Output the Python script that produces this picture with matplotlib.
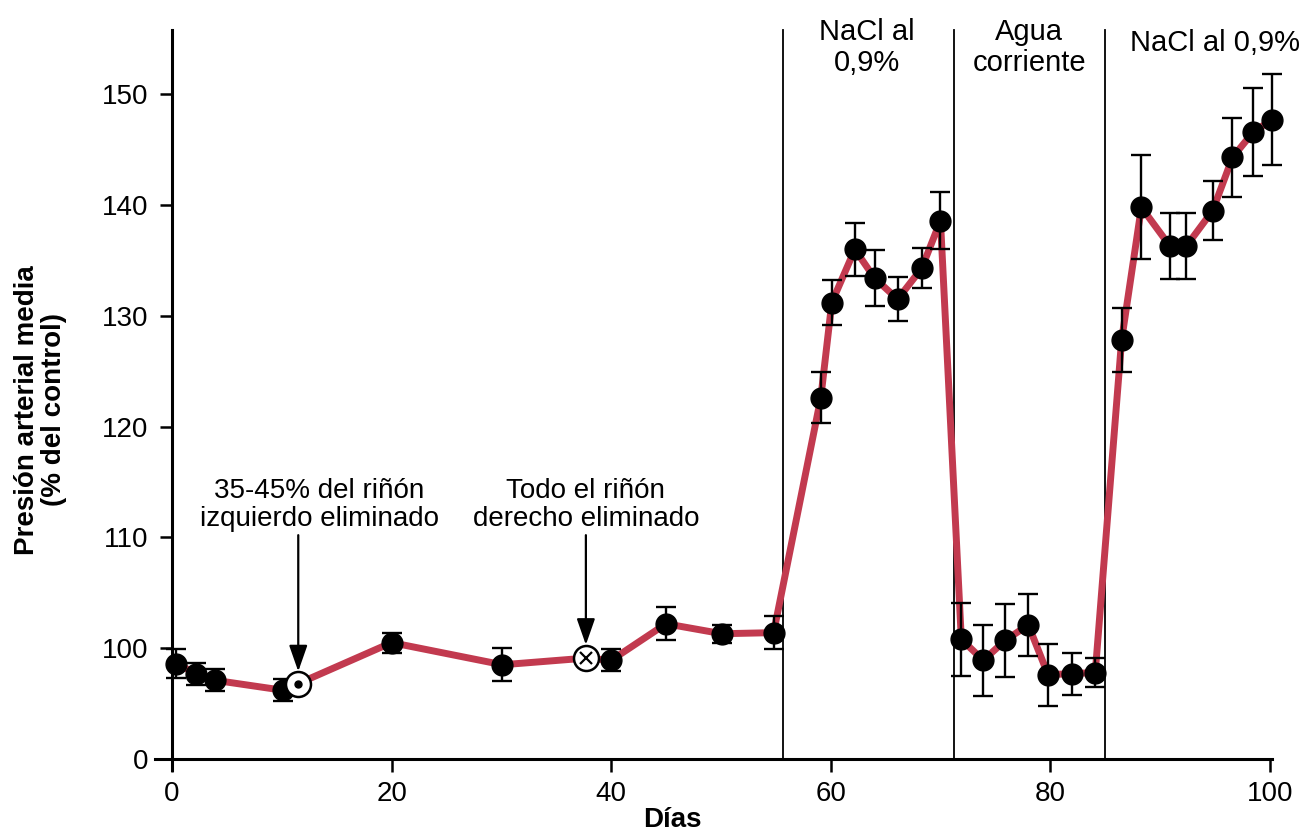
import matplotlib
matplotlib.use("Agg")
import matplotlib.pyplot as plt

plt.rcParams['font.family'] = ['Liberation Sans', 'DejaVu Sans']

# Data (días, presión % del control, error)
dias = [0.4, 2.2, 3.9, 10.1, 11.5, 20.0, 30.1, 37.7, 40.0, 45.0, 50.1, 54.8,
        59.1, 60.1, 62.2, 64.0, 66.1, 68.3, 70.0,
        71.9, 73.9, 75.9, 78.0, 79.8, 82.0, 84.1,
        86.5, 88.3, 90.9, 92.4, 94.8, 96.6, 98.5, 100.2]
presion = [98.6, 97.7, 97.1, 96.2, 96.8, 100.5, 98.5, 99.1, 98.9, 102.2, 101.3, 101.4,
           122.6, 131.2, 136.0, 133.4, 131.5, 134.3, 138.6,
           100.8, 98.9, 100.7, 102.1, 97.6, 97.7, 97.8,
           127.8, 139.8, 136.3, 136.3, 139.5, 144.3, 146.6, 147.7]
error = [1.3, 1.0, 1.0, 1.0, 0.0, 0.9, 1.5, 0.0, 1.0, 1.5, 0.8, 1.5,
         2.3, 2.0, 2.4, 2.5, 2.0, 1.8, 2.6,
         3.3, 3.2, 3.3, 2.8, 2.8, 1.9, 1.3,
         2.9, 4.7, 3.0, 3.0, 2.7, 3.6, 4.0, 4.1]
# special markers: index 4 (circle with dot), index 7 (circle with x)
idx_dot = 4
idx_x = 7

cambios = [55.7, 71.2, 85.0]
yticks_pos = [90, 100, 110, 120, 130, 140, 150]
yticks_lab = ['0', '100', '110', '120', '130', '140', '150']
xticks = [0, 20, 40, 60, 80, 100]

red = '#c23a4f'

fig = plt.figure(figsize=(13.05, 8.33), dpi=100)
ax = fig.add_axes([155/1305, 1 - 770/833, (1272-155)/1305, (770-30)/833])
ax.set_xlim(-1.55, 100.2)
ax.set_ylim(89.0, 155.8)

ax.plot(dias, presion, color=red, lw=5, zorder=2, solid_joinstyle='round', clip_on=False)

normal = [i for i in range(len(dias)) if i not in (idx_dot, idx_x)]
eb = ax.errorbar([dias[i] for i in normal], [presion[i] for i in normal],
                 yerr=[error[i] for i in normal], fmt='o', color='black',
                 markersize=15, capsize=7, elinewidth=1.7, capthick=1.7, zorder=4)
eb.lines[0].set_clip_on(False)
for coll in eb.lines[1]:
    coll.set_clip_on(False)
for coll in eb.lines[2]:
    coll.set_clip_on(False)

# special markers
ax.plot(dias[idx_dot], presion[idx_dot], 'o', ms=18, mfc='white', mec='black', mew=1.8, zorder=5)
ax.plot(dias[idx_dot], presion[idx_dot], 'o', ms=5, color='black', zorder=6)
ax.plot(dias[idx_x], presion[idx_x], 'o', ms=18, mfc='white', mec='black', mew=1.8, zorder=5)
ax.plot(dias[idx_x], presion[idx_x], 'x', ms=8, mew=1.6, color='black', zorder=6)

for c in cambios:
    ax.plot([c, c], [90, 155.8], color='black', lw=1.3, zorder=1, clip_on=False)

for s in ['top', 'right']:
    ax.spines[s].set_visible(False)
ax.spines['bottom'].set_position(('data', 90))
ax.spines['left'].set_position(('data', 0))
ax.spines['bottom'].set_linewidth(2.2)
ax.spines['left'].set_linewidth(2.2)

ax.set_yticks(yticks_pos)
ax.set_yticklabels(yticks_lab)
ax.set_xticks(xticks)
ax.tick_params(axis='both', direction='out', length=9, width=1.8, labelsize=20)
ax.tick_params(axis='x', pad=7)
ax.tick_params(axis='y', pad=8)

fig.text(672/1305, 1 - 820/833, 'Días', fontsize=20, fontweight='bold', ha='center', va='center')
fig.text(41/1305, 1 - 410/833, 'Presión arterial media\n(% del control)', fontsize=20,
         fontweight='bold', ha='center', va='center', rotation=90, linespacing=1.05)

# annotations
arrow_kw = dict(arrowstyle='-|>,head_length=0.8,head_width=0.28', color='black', lw=1.6,
                mutation_scale=20, shrinkA=0, shrinkB=0)
ax.text(13.4, 112.9, '35-45% del riñón\nizquierdo eliminado', ha='center',
        va='center', fontsize=20, linespacing=1.1)
ax.annotate('', xy=(dias[idx_dot], 97.9), xytext=(dias[idx_dot], 110.2), arrowprops=arrow_kw)
ax.text(37.7, 112.9, 'Todo el riñón\nderecho eliminado', ha='center',
        va='center', fontsize=20, linespacing=1.1)
ax.annotate('', xy=(dias[idx_x], 100.3), xytext=(dias[idx_x], 110.2), arrowprops=arrow_kw)

ax.text(63.3, 154.2, 'NaCl al\n0,9%', ha='center', va='center', fontsize=21, linespacing=1.15)
ax.text(78.1, 154.2, 'Agua\ncorriente', ha='center', va='center', fontsize=21, linespacing=1.15)
ax.text(95.0, 154.6, 'NaCl al 0,9%', ha='center', va='center', fontsize=21)

fig.savefig('out.png', dpi=100)
